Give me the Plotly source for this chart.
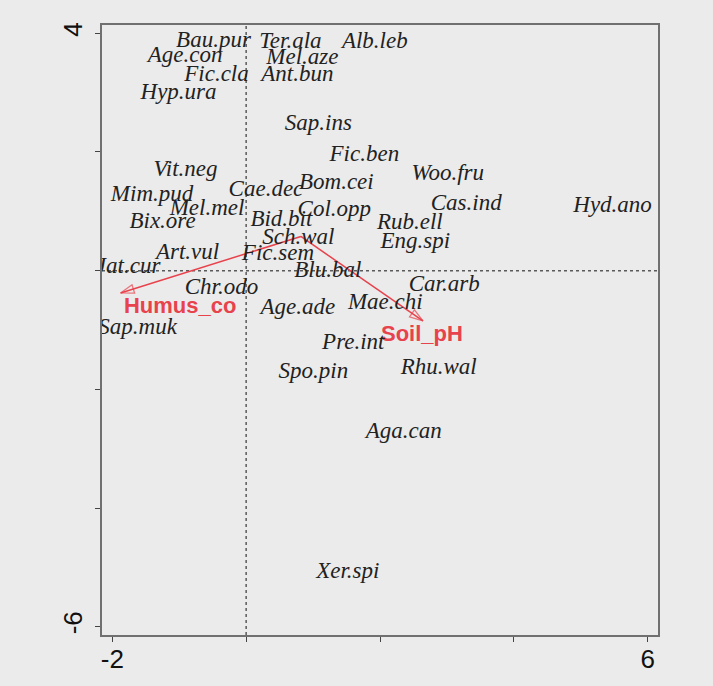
import plotly.graph_objects as go

species = ["Bau.pur", "Ter.ala", "Alb.leb", "Age.con", "Mel.aze", "Fic.cla", "Ant.bun",
           "Hyp.ura", "Sap.ins", "Fic.ben", "Vit.neg", "Woo.fru", "Bom.cei", "Cae.dec",
           "Mim.pud", "Cas.ind", "Hyd.ano", "Mel.mel", "Col.opp", "Bix.ore", "Bid.bit",
           "Rub.ell", "Sch.wal", "Eng.spi", "Art.vul", "Fic.sem", "Jat.cur", "Blu.bal",
           "Chr.odo", "Car.arb", "Mae.chi", "Age.ade", "Sap.muk", "Pre.int", "Rhu.wal",
           "Spo.pin", "Aga.can", "Xer.spi"]
sp_x = [-0.488, 0.661, 1.922, -0.913, 0.840, -0.443, 0.766,
        -1.010, 1.079, 1.766, -0.906, 3.012, 1.348, 0.296,
        -1.406, 3.288, 5.475, -0.585, 1.318, -1.249, 0.527,
        2.445, 0.781, 2.527, -0.876, 0.475, -1.764, 1.221,
        -0.369, 2.960, 2.079, 0.773, -1.622, 1.601, 2.878,
        1.004, 2.355, 1.519]
sp_y = [3.858, 3.853, 3.853, 3.617, 3.584, 3.297, 3.297,
        2.994, 2.472, 1.949, 1.696, 1.629, 1.477, 1.359,
        1.275, 1.123, 1.090, 1.040, 1.023, 0.820, 0.854,
        0.803, 0.550, 0.483, 0.298, 0.281, 0.062, -0.005,
        -0.292, -0.241, -0.544, -0.628, -0.965, -1.218, -1.640,
        -1.707, -2.719, -5.078]

env_names = ["Humus_co", "Soil_pH"]
env_origin = [0.818, 0.576]
env_tip_x = [-1.876, 2.642]
env_tip_y = [-0.375, -0.848]
env_label_x = [-0.985, 2.627]
env_label_y = [-0.617, -1.089]

x_ticks = [-2, 0, 2, 4, 6]
x_ticktext = ["-2", "", "", "", "6"]
y_ticks = [-6, -4, -2, 0, 2, 4]
y_ticktext = ["-6", "", "", "", "", "4"]

RED = "#e8424c"
BG = "#ebebeb"

fig = go.Figure()

# arrows
for i, name in enumerate(env_names):
    fig.add_trace(go.Scatter(
        x=[env_origin[0], env_tip_x[i]], y=[env_origin[1], env_tip_y[i]],
        mode="lines+markers",
        line=dict(color=RED, width=1.5),
        marker=dict(symbol="arrow-open", size=[0, 14], angleref="previous",
                    color=RED, line=dict(color=RED, width=1.3)),
        hoverinfo="skip", showlegend=False))

fig.add_trace(go.Scatter(
    x=env_label_x, y=env_label_y, mode="text", text=env_names,
    textfont=dict(family="Liberation Sans", size=22, color=RED, weight="bold"),
    textposition="middle center", showlegend=False, hoverinfo="skip"))

fig.add_trace(go.Scatter(
    x=sp_x, y=sp_y, mode="text", text=species,
    textfont=dict(family="Liberation Serif", size=23, color="#222222", style="italic"),
    textposition="middle center", showlegend=False))

# dotted zero lines
fig.add_shape(type="line", xref="x", yref="paper", x0=0, x1=0, y0=0, y1=1,
              line=dict(color="#5a5a5a", width=1.5, dash="dot"), layer="below")
fig.add_shape(type="line", xref="paper", yref="y", x0=0, x1=1, y0=0, y1=0,
              line=dict(color="#5a5a5a", width=1.5, dash="dot"), layer="below")

fig.update_layout(
    width=713, height=686,
    margin=dict(l=102, r=55, t=25, b=51, autoexpand=False),
    paper_bgcolor=BG, plot_bgcolor=BG,
    font=dict(family="Liberation Sans", color="#111111"),
)
fig.update_xaxes(range=[-2.154, 6.154], tickvals=x_ticks, ticktext=x_ticktext,
                 showgrid=False, zeroline=False, showline=True, mirror=True,
                 linecolor="#707070", linewidth=2, ticks="outside", ticklen=5,
                 tickcolor="#444444", tickfont=dict(size=26), ticklabelstandoff=-5,
                 automargin=False)
fig.update_yaxes(range=[-6.14, 4.14], tickvals=y_ticks, ticktext=y_ticktext,
                 showgrid=False, zeroline=False, showline=True, mirror=True,
                 linecolor="#707070", linewidth=2, ticks="outside", ticklen=5,
                 tickcolor="#444444", tickfont=dict(size=26), tickangle=-90,
                 ticklabelstandoff=3, automargin=False)

fig.write_html("out.html", config={"displayModeBar": False},
               post_script="document.body.style.margin='0';"
                           "document.body.style.background='#ebebeb';")
